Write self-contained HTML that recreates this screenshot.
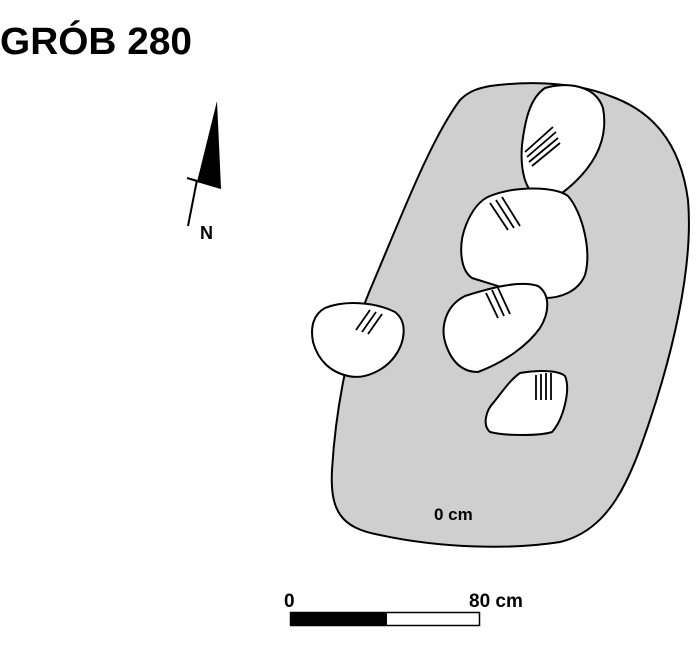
<!DOCTYPE html>
<html><head><style>
html,body{margin:0;padding:0;background:#fff;width:700px;height:672px;overflow:hidden}
svg{position:absolute;left:0;top:0}
</style></head><body>
<svg width="700" height="672" viewBox="0 0 700 672" xmlns="http://www.w3.org/2000/svg">
<text x="0" y="54" font-family="Liberation Sans, sans-serif" font-weight="bold" font-size="38" textLength="192" lengthAdjust="spacingAndGlyphs">GRÓB 280</text>
<polygon points="217,101 221,188 197,182" fill="#000"/>
<line x1="187" y1="178" x2="221" y2="188" stroke="#000" stroke-width="2"/>
<line x1="197" y1="180" x2="188" y2="226" stroke="#000" stroke-width="2"/>
<text x="200" y="239" font-family="Liberation Sans, sans-serif" font-weight="bold" font-size="18">N</text>
<path d="M490,86 C520,82 570,80 610,96 C650,110 680,140 688,200 C694,270 670,360 650,420 C630,480 610,530 560,542 C510,550 440,548 380,535 C340,528 330,510 332,470 C335,420 345,350 370,290 C400,220 430,140 460,100 C470,90 480,88 490,86 Z" fill="#cfcfcf" stroke="#000" stroke-width="2"/>
<path d="M545,88 C565,82 595,84 603,108 C608,135 598,160 575,182 C560,196 548,204 538,198 C525,190 520,170 522,145 C525,120 530,98 545,88 Z" fill="#fff" stroke="#000" stroke-width="2"/>
<path d="M490,196 C515,186 555,186 568,196 C582,212 592,250 585,275 C578,292 560,298 545,298 C525,295 495,285 472,278 C460,270 458,245 466,225 C472,210 480,200 490,196 Z" fill="#fff" stroke="#000" stroke-width="2"/>
<path d="M465,296 C490,288 520,280 538,286 C550,294 550,312 540,328 C528,345 505,362 478,372 C462,372 452,362 446,345 C440,328 445,306 465,296 Z" fill="#fff" stroke="#000" stroke-width="2"/>
<path d="M325,308 C345,300 375,302 395,312 C408,322 405,342 395,356 C385,370 365,380 348,376 C330,372 318,360 313,342 C310,326 314,314 325,308 Z" fill="#fff" stroke="#000" stroke-width="2"/>
<path d="M520,373 C538,370 558,370 565,376 C571,390 563,420 552,432 C540,436 505,436 490,432 C482,425 486,410 494,402 C502,392 510,380 520,373 Z" fill="#fff" stroke="#000" stroke-width="2"/>
<g stroke="#000" stroke-width="1.8" fill="none">
<path d="M525,152 L553,127 M527,157 L556,132 M529,162 L558,138 M532,166 L560,143"/>
<path d="M490,203 L508,230 M496,200 L514,228 M502,197 L520,226"/>
<path d="M486,293 L498,318 M492,290 L504,316 M498,288 L510,314"/>
<path d="M356,330 L370,310 M362,332 L376,312 M368,334 L382,314"/>
<path d="M536,375 L536,400 M541,374 L541,400 M546,373 L546,400 M551,373 L551,400"/>
</g>
<text x="434" y="520" font-family="Liberation Sans, sans-serif" font-weight="bold" font-size="17">0 cm</text>
<rect x="290.5" y="612.5" width="189" height="13" fill="#fff" stroke="#000" stroke-width="1.5"/>
<rect x="290" y="612" width="97" height="14" fill="#000"/>
<text x="284" y="607" font-family="Liberation Sans, sans-serif" font-weight="bold" font-size="19">0</text>
<text x="469" y="607" font-family="Liberation Sans, sans-serif" font-weight="bold" font-size="19">80 cm</text>
</svg>
</body></html>
